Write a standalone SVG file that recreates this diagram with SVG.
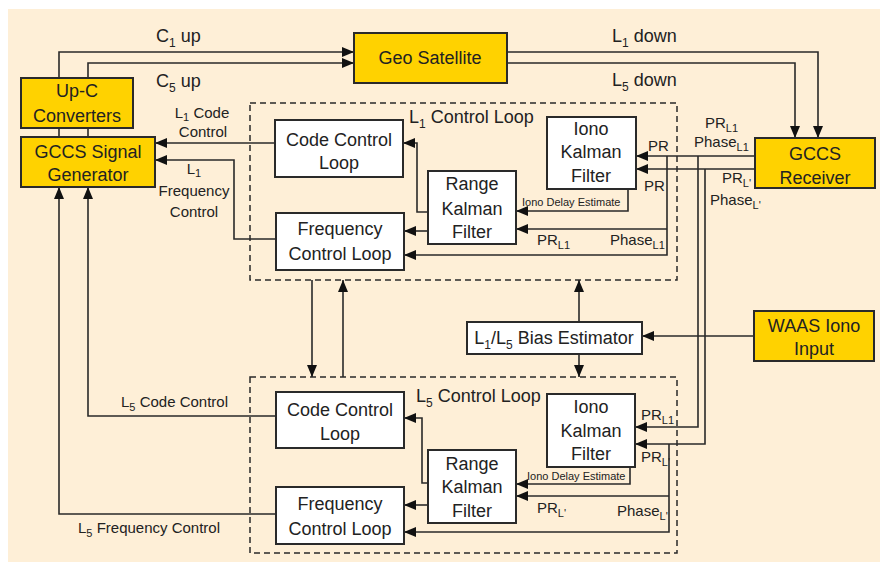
<svg xmlns="http://www.w3.org/2000/svg" width="880" height="562" viewBox="0 0 880 562">
<style>
text{font-family:"Liberation Sans",Arial,sans-serif;fill:#222;}
.t{font-size:18px;text-anchor:middle;}
.s{font-size:15px;}
.sm{font-size:11px;}
.c{text-anchor:middle;}
.gold{fill:#FFD200;stroke:#2a2a2a;stroke-width:2;}
.wb{fill:#fff;stroke:#2a2a2a;stroke-width:2;}
.dash{fill:none;stroke:#2a2a2a;stroke-width:1.5;stroke-dasharray:6,4;}
.ln{fill:none;stroke:#2a2a2a;stroke-width:1.6;}
.ar{fill:none;stroke:#2a2a2a;stroke-width:1.6;marker-end:url(#a);}
</style>
<defs>
<marker id="a" markerUnits="userSpaceOnUse" markerWidth="12" markerHeight="10" refX="12" refY="5" orient="auto">
<path d="M0,0 L12,5 L0,10 z" fill="#111"/>
</marker>
</defs>
<rect x="0" y="0" width="880" height="562" fill="#fff"/>
<rect x="8" y="9" width="872" height="553" fill="#FEEFD7"/>

<g id="loops">
<rect class="dash" x="250" y="103" width="427" height="177"/>
<rect class="dash" x="250" y="377" width="427" height="176"/>
<text class="s" x="409" y="123" style="font-size:18px">L<tspan dy="5" font-size="12">1</tspan><tspan dy="-5"> Control Loop</tspan></text>
<text class="s" x="416" y="402" style="font-size:18px">L<tspan dy="5" font-size="12">5</tspan><tspan dy="-5"> Control Loop</tspan></text>
</g>

<g id="connectors">
<path class="ar" d="M59,78 V52 H354"/>
<path class="ar" d="M88,78 V63 H354"/>
<path class="ln" d="M59,128 V137 M88,128 V137"/>
<path class="ar" d="M507,52 H818 V138"/>
<path class="ar" d="M507,63 H795 V138"/>
<path class="ar" d="M275,143 H155"/>
<path class="ar" d="M276,239 H234 V160 H155"/>
<path class="ar" d="M276,416 H88 V187"/>
<path class="ar" d="M276,514 H59 V187"/>
<path class="ar" d="M312,280 V377"/>
<path class="ar" d="M343,377 V280"/>
<path class="ar" d="M579,322 V280"/>
<path class="ar" d="M579,354 V377"/>
<path class="ar" d="M754,336 H642"/>
<path class="ar" d="M755,156 H636"/>
<path class="ar" d="M755,169 H636"/>
<path class="ar" d="M667,156 V255 H404"/>
<path class="ar" d="M667,229 H516"/>
<path class="ar" d="M698,156 V427 H635"/>
<path class="ar" d="M705,169 V444 H635"/>
<path class="ar" d="M669,444 V532 H404"/>
<path class="ar" d="M669,496 H516"/>
<path class="ar" d="M628,189 V211 H516"/>
<path class="ar" d="M630,467 V484 H516"/>
<path class="ar" d="M428,212 H417 V143 H403"/>
<path class="ar" d="M428,483 H422 V418 H404"/>
<path class="ar" d="M428,231 H404"/>
<path class="ar" d="M428,505 H404"/>
</g>

<g id="labels">
<text class="s" x="156" y="42" style="font-size:18px">C<tspan dy="5" font-size="12">1</tspan><tspan dy="-5"> up</tspan></text>
<text class="s" x="156" y="87" style="font-size:18px">C<tspan dy="5" font-size="12">5</tspan><tspan dy="-5"> up</tspan></text>
<text class="s" x="612" y="42" style="font-size:18px">L<tspan dy="5" font-size="12">1</tspan><tspan dy="-5"> down</tspan></text>
<text class="s" x="612" y="86" style="font-size:18px">L<tspan dy="5" font-size="12">5</tspan><tspan dy="-5"> down</tspan></text>
<text class="s c" x="202" y="118">L<tspan dy="3" font-size="11">1</tspan><tspan dy="-3"> Code</tspan></text>
<text class="s c" x="203" y="137">Control</text>
<text class="s c" x="194" y="174">L<tspan dy="3" font-size="11">1</tspan></text>
<text class="s c" x="194" y="196">Frequency</text>
<text class="s c" x="194" y="217">Control</text>
<text class="s" x="121" y="407">L<tspan dy="4" font-size="11">5</tspan><tspan dy="-4"> Code Control</tspan></text>
<text class="s" x="78" y="533">L<tspan dy="4" font-size="11">5</tspan><tspan dy="-4"> Frequency Control</tspan></text>
<text class="sm" x="522" y="206">Iono Delay Estimate</text>
<text class="sm" x="527" y="480">Iono Delay Estimate</text>
<text class="s" x="648" y="151">PR</text>
<text class="s" x="644" y="191">PR</text>
<text class="s" x="705" y="128">PR<tspan dy="4" font-size="11">L1</tspan></text>
<text class="s" x="694" y="147">Phase<tspan dy="4" font-size="11">L1</tspan></text>
<text class="s" x="722" y="183">PR<tspan dy="4" font-size="11">L'</tspan></text>
<text class="s" x="710" y="205">Phase<tspan dy="4" font-size="11">L'</tspan></text>
<text class="s" x="537" y="245">PR<tspan dy="4" font-size="11">L1</tspan></text>
<text class="s" x="610" y="245">Phase<tspan dy="4" font-size="11">L1</tspan></text>
<text class="s" x="641" y="420">PR<tspan dy="4" font-size="11">L1</tspan></text>
<text class="s" x="641" y="462">PR<tspan dy="4" font-size="11">L'</tspan></text>
<text class="s" x="537" y="513">PR<tspan dy="4" font-size="11">L'</tspan></text>
<text class="s" x="617" y="516">Phase<tspan dy="4" font-size="11">L'</tspan></text>
</g>

<g id="geo-satellite">
<rect class="gold" x="354" y="33" width="153" height="50"/>
<text class="t" x="430" y="64">Geo Satellite</text>
</g>
<g id="up-c-converters">
<rect class="gold" x="21" y="78" width="112" height="50"/>
<text class="t" x="77" y="97">Up-C</text>
<text class="t" x="77" y="122">Converters</text>
</g>
<g id="gccs-signal-generator">
<rect class="gold" x="21" y="137" width="134" height="50"/>
<text class="t" x="88" y="158">GCCS Signal</text>
<text class="t" x="88" y="181">Generator</text>
</g>
<g id="gccs-receiver">
<rect class="gold" x="755" y="138" width="120" height="50"/>
<text class="t" x="815" y="160">GCCS</text>
<text class="t" x="815" y="184">Receiver</text>
</g>
<g id="waas-iono-input">
<rect class="gold" x="754" y="311" width="120" height="50"/>
<text class="t" x="814" y="332">WAAS Iono</text>
<text class="t" x="814" y="355">Input</text>
</g>
<g id="bias-estimator">
<rect class="wb" x="467" y="322" width="175" height="32"/>
<text class="t" x="554" y="344">L<tspan dy="5" font-size="12">1</tspan><tspan dy="-5">/L</tspan><tspan dy="5" font-size="12">5</tspan><tspan dy="-5"> Bias Estimator</tspan></text>
</g>

<g id="l1-code-control-loop">
<rect class="wb" x="275" y="120" width="128" height="57"/>
<text class="t" x="339" y="146">Code Control</text>
<text class="t" x="339" y="169">Loop</text>
</g>
<g id="l1-frequency-control-loop">
<rect class="wb" x="276" y="213" width="128" height="57"/>
<text class="t" x="340" y="235">Frequency</text>
<text class="t" x="340" y="260">Control Loop</text>
</g>
<g id="l1-iono-kalman-filter">
<rect class="wb" x="547" y="117" width="89" height="72"/>
<text class="t" x="591" y="135">Iono</text>
<text class="t" x="591" y="158">Kalman</text>
<text class="t" x="591" y="182">Filter</text>
</g>
<g id="l1-range-kalman-filter">
<rect class="wb" x="428" y="171" width="88" height="73"/>
<text class="t" x="472" y="190">Range</text>
<text class="t" x="472" y="215">Kalman</text>
<text class="t" x="472" y="238">Filter</text>
</g>

<g id="l5-code-control-loop">
<rect class="wb" x="276" y="392" width="128" height="56"/>
<text class="t" x="340" y="416">Code Control</text>
<text class="t" x="340" y="440">Loop</text>
</g>
<g id="l5-frequency-control-loop">
<rect class="wb" x="276" y="487" width="128" height="57"/>
<text class="t" x="340" y="510">Frequency</text>
<text class="t" x="340" y="535">Control Loop</text>
</g>
<g id="l5-iono-kalman-filter">
<rect class="wb" x="547" y="394" width="88" height="73"/>
<text class="t" x="591" y="413">Iono</text>
<text class="t" x="591" y="437">Kalman</text>
<text class="t" x="591" y="460">Filter</text>
</g>
<g id="l5-range-kalman-filter">
<rect class="wb" x="428" y="450" width="88" height="73"/>
<text class="t" x="472" y="470">Range</text>
<text class="t" x="472" y="493">Kalman</text>
<text class="t" x="472" y="517">Filter</text>
</g>
</svg>
